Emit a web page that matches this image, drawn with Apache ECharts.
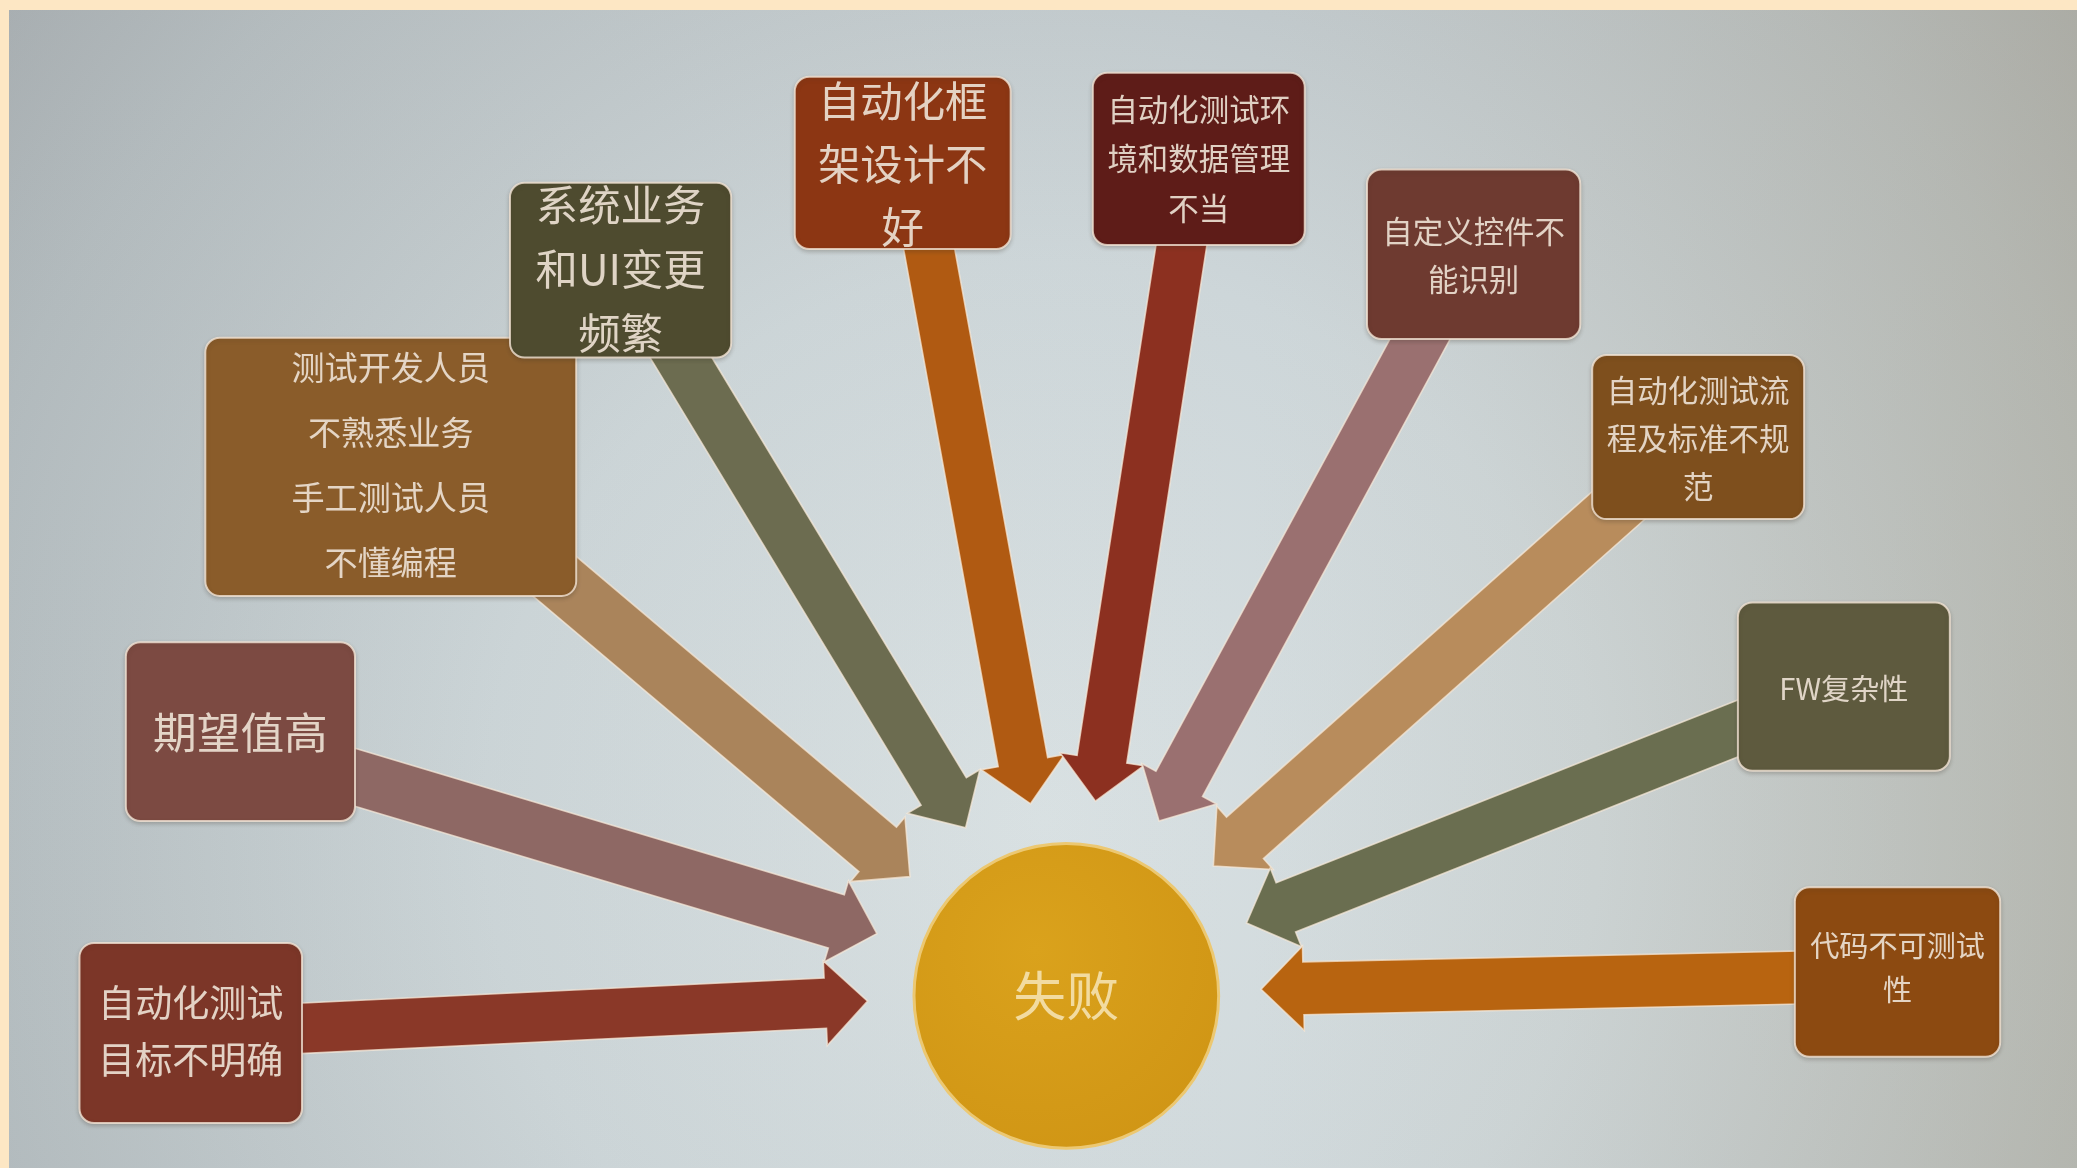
<!DOCTYPE html>
<html>
<head>
<meta charset="utf-8">
<script src="https://cdn.jsdelivr.net/npm/echarts@6/dist/echarts.min.js"></script>
<style>
html,body{margin:0;padding:0;width:100%;height:100%;overflow:hidden;background:#fde7c4;}
#chart{width:100vw;height:100vh;}
</style>
</head>
<body>
<div id="chart"></div>
<script>
// ---- content ----
const centerLabel = '失败';
const causes = [
  '自动化测试\n目标不明确',
  '期望值高',
  '测试开发人员\n不熟悉业务\n手工测试人员\n不懂编程',
  '系统业务\n和UI变更\n频繁',
  '自动化框\n架设计不\n好',
  '自动化测试环\n境和数据管理\n不当',
  '自定义控件不\n能识别',
  '自动化测试流\n程及标准不规\n范',
  'FW复杂性',
  '代码不可测试\n性'
];

// ---- layout (reference page units, 1568 x 882) ----
const PAGE_W = 1568, PAGE_H = 882;
const boxLayout = [
  [60, 712, 228, 848],
  [95, 485, 268, 620],
  [155, 255, 435, 450],
  [385, 138, 552, 270],
  [600, 58, 763, 188],
  [825, 55, 985, 185],
  [1032, 128, 1193, 256],
  [1202, 268, 1362, 392],
  [1312, 455, 1472, 582],
  [1355, 670, 1510, 798]
];
// [fontSize, lineHeight, textCenterY]
const textLayout = [
  [28, 43, 779],
  [33, 40, 553],
  [25, 49, 351],
  [32, 48, 203],
  [32, 47.5, 124],
  [23, 37.5, 120],
  [23, 36, 193],
  [23, 36.5, 331],
  [22, 30, 520],
  [22, 33, 731]
];
// [tailX, tailY, tipX, tipY, shaftWidth]
const arrowLayout = [
  [218, 777, 655, 756, 38],
  [255, 583, 662, 705, 42],
  [415, 432, 687, 662, 44],
  [505, 255, 729, 625, 40],
  [700, 180, 778, 607, 38],
  [893, 178, 827, 605, 38],
  [1078, 245, 875, 620, 40],
  [1235, 370, 916, 654, 42],
  [1325, 545, 941, 697, 40],
  [1368, 738, 952, 747, 40]
];
const HEAD_W = 64, HEAD_L = 32;
const circleLayout = [805, 752, 115];

// ---- styles ----
const boxColors = ['#7c3628','#7c4a42','#8a5c2a','#4e4b2f','#8c3613','#5e1c18','#6e3a30','#7e4f1d','#5e5a3e','#8c4a11'];
const arrowColors = ['#8a3828','#8e6864','#aa845b','#6c6c50','#b05a12','#8c3020','#9a7070','#b88c5c','#6a6e50','#b86410'];
const textColor = '#ece0d2';
const FONT = '"Noto Sans CJK SC", "Noto Sans", sans-serif';

const chart = echarts.init(document.getElementById('chart'));

function arrowItem(params, api) {
  const i = api.value(0);
  const a = arrowLayout[i];
  const t = api.coord([a[0], a[1]]);
  const h = api.coord([a[2], a[3]]);
  const k = api.size([1, 0])[0];
  const w = a[4] * k / 2, hw = HEAD_W * k / 2, hl = HEAD_L * k;
  const dx = h[0] - t[0], dy = h[1] - t[1];
  const len = Math.sqrt(dx * dx + dy * dy);
  const ux = dx / len, uy = dy / len;
  const nx = -uy, ny = ux;
  const bx = h[0] - ux * hl, by = h[1] - uy * hl;
  const pts = [
    [t[0] + nx * w, t[1] + ny * w],
    [bx + nx * w, by + ny * w],
    [bx + nx * hw, by + ny * hw],
    [h[0], h[1]],
    [bx - nx * hw, by - ny * hw],
    [bx - nx * w, by - ny * w],
    [t[0] - nx * w, t[1] - ny * w]
  ];
  return {
    type: 'polygon',
    shape: { points: pts },
    style: { fill: arrowColors[i], stroke: 'rgba(246,232,216,0.75)', lineWidth: 1.6, lineJoin: 'miter' }
  };
}

function boxItem(params, api) {
  const i = api.value(0);
  const b = boxLayout[i];
  const p0 = api.coord([b[0], b[1]]);
  const p1 = api.coord([b[2], b[3]]);
  const k = api.size([1, 0])[0];
  const tl = textLayout[i];
  const cy = api.coord([0, tl[2]])[1];
  return {
    type: 'group',
    children: [
      {
        type: 'rect',
        shape: { x: p0[0], y: p0[1], width: p1[0] - p0[0], height: p1[1] - p0[1], r: 11 * k },
        style: { fill: boxColors[i], stroke: 'rgba(242,228,212,0.8)', lineWidth: 2, shadowBlur: 4, shadowColor: 'rgba(60,50,40,0.25)', shadowOffsetY: 2 }
      },
      {
        type: 'text',
        style: {
          text: causes[i],
          x: (p0[0] + p1[0]) / 2,
          y: cy,
          align: 'center',
          verticalAlign: 'middle',
          fontFamily: FONT,
          fontSize: tl[0] * k,
          lineHeight: tl[1] * k,
          fill: textColor,
          opacity: 0.92
        }
      }
    ]
  };
}

function circleItem(params, api) {
  const c = api.coord([circleLayout[0], circleLayout[1]]);
  const k = api.size([1, 0])[0];
  const r = circleLayout[2] * k;
  return {
    type: 'group',
    children: [
      {
        type: 'circle',
        shape: { cx: c[0], cy: c[1], r: r },
        style: {
          fill: new echarts.graphic.RadialGradient(0.4, 0.35, 0.8, [
            { offset: 0, color: '#daa21c' },
            { offset: 1, color: '#cf9414' }
          ]),
          stroke: '#ecc872', lineWidth: 3
        }
      },
      {
        type: 'text',
        style: {
          text: centerLabel, x: c[0], y: c[1], align: 'center', verticalAlign: 'middle',
          fontFamily: FONT, fontSize: 40 * k, fill: '#f2dba0'
        }
      }
    ]
  };
}

const W = chart.getWidth(), H = chart.getHeight();
const padL = 9, padT = 10;
const bgW = W - padL, bgH = H - padT;

chart.setOption({
  backgroundColor: '#fde7c4',
  animation: false,
  graphic: [
    {
      type: 'rect', left: padL, top: padT, z: 0, silent: true,
      shape: { width: bgW, height: bgH },
      style: {
        fill: new echarts.graphic.RadialGradient(bgW * 0.5, bgH * 0.7, bgW * 0.77, [
          { offset: 0, color: '#d9e1e3' },
          { offset: 0.35, color: '#cdd6d9' },
          { offset: 0.7, color: '#b5bcbf' },
          { offset: 1, color: '#9b9da0' }
        ], true)
      }
    },
    {
      type: 'rect', left: padL, top: padT, z: 0, silent: true,
      shape: { width: bgW, height: bgH },
      style: {
        fill: new echarts.graphic.LinearGradient(0, 0, 1, 0, [
          { offset: 0, color: 'rgba(150,170,172,0.10)' },
          { offset: 0.6, color: 'rgba(200,195,180,0.0)' },
          { offset: 1, color: 'rgba(175,165,135,0.30)' }
        ])
      }
    }
  ],
  grid: { left: 0, right: 0, top: 0, bottom: 0 },
  xAxis: { type: 'value', min: 0, max: PAGE_W, show: false },
  yAxis: { type: 'value', min: 0, max: PAGE_H, inverse: true, show: false },
  series: [
    { type: 'custom', name: 'arrows', z: 3, renderItem: arrowItem, data: causes.map((c, i) => [i, 0]) },
    { type: 'custom', name: 'causes', z: 4, renderItem: boxItem, data: causes.map((c, i) => [i, 0]) },
    { type: 'custom', name: 'result', z: 5, renderItem: circleItem, data: [[0, 0]] }
  ]
});
</script>
</body>
</html>
